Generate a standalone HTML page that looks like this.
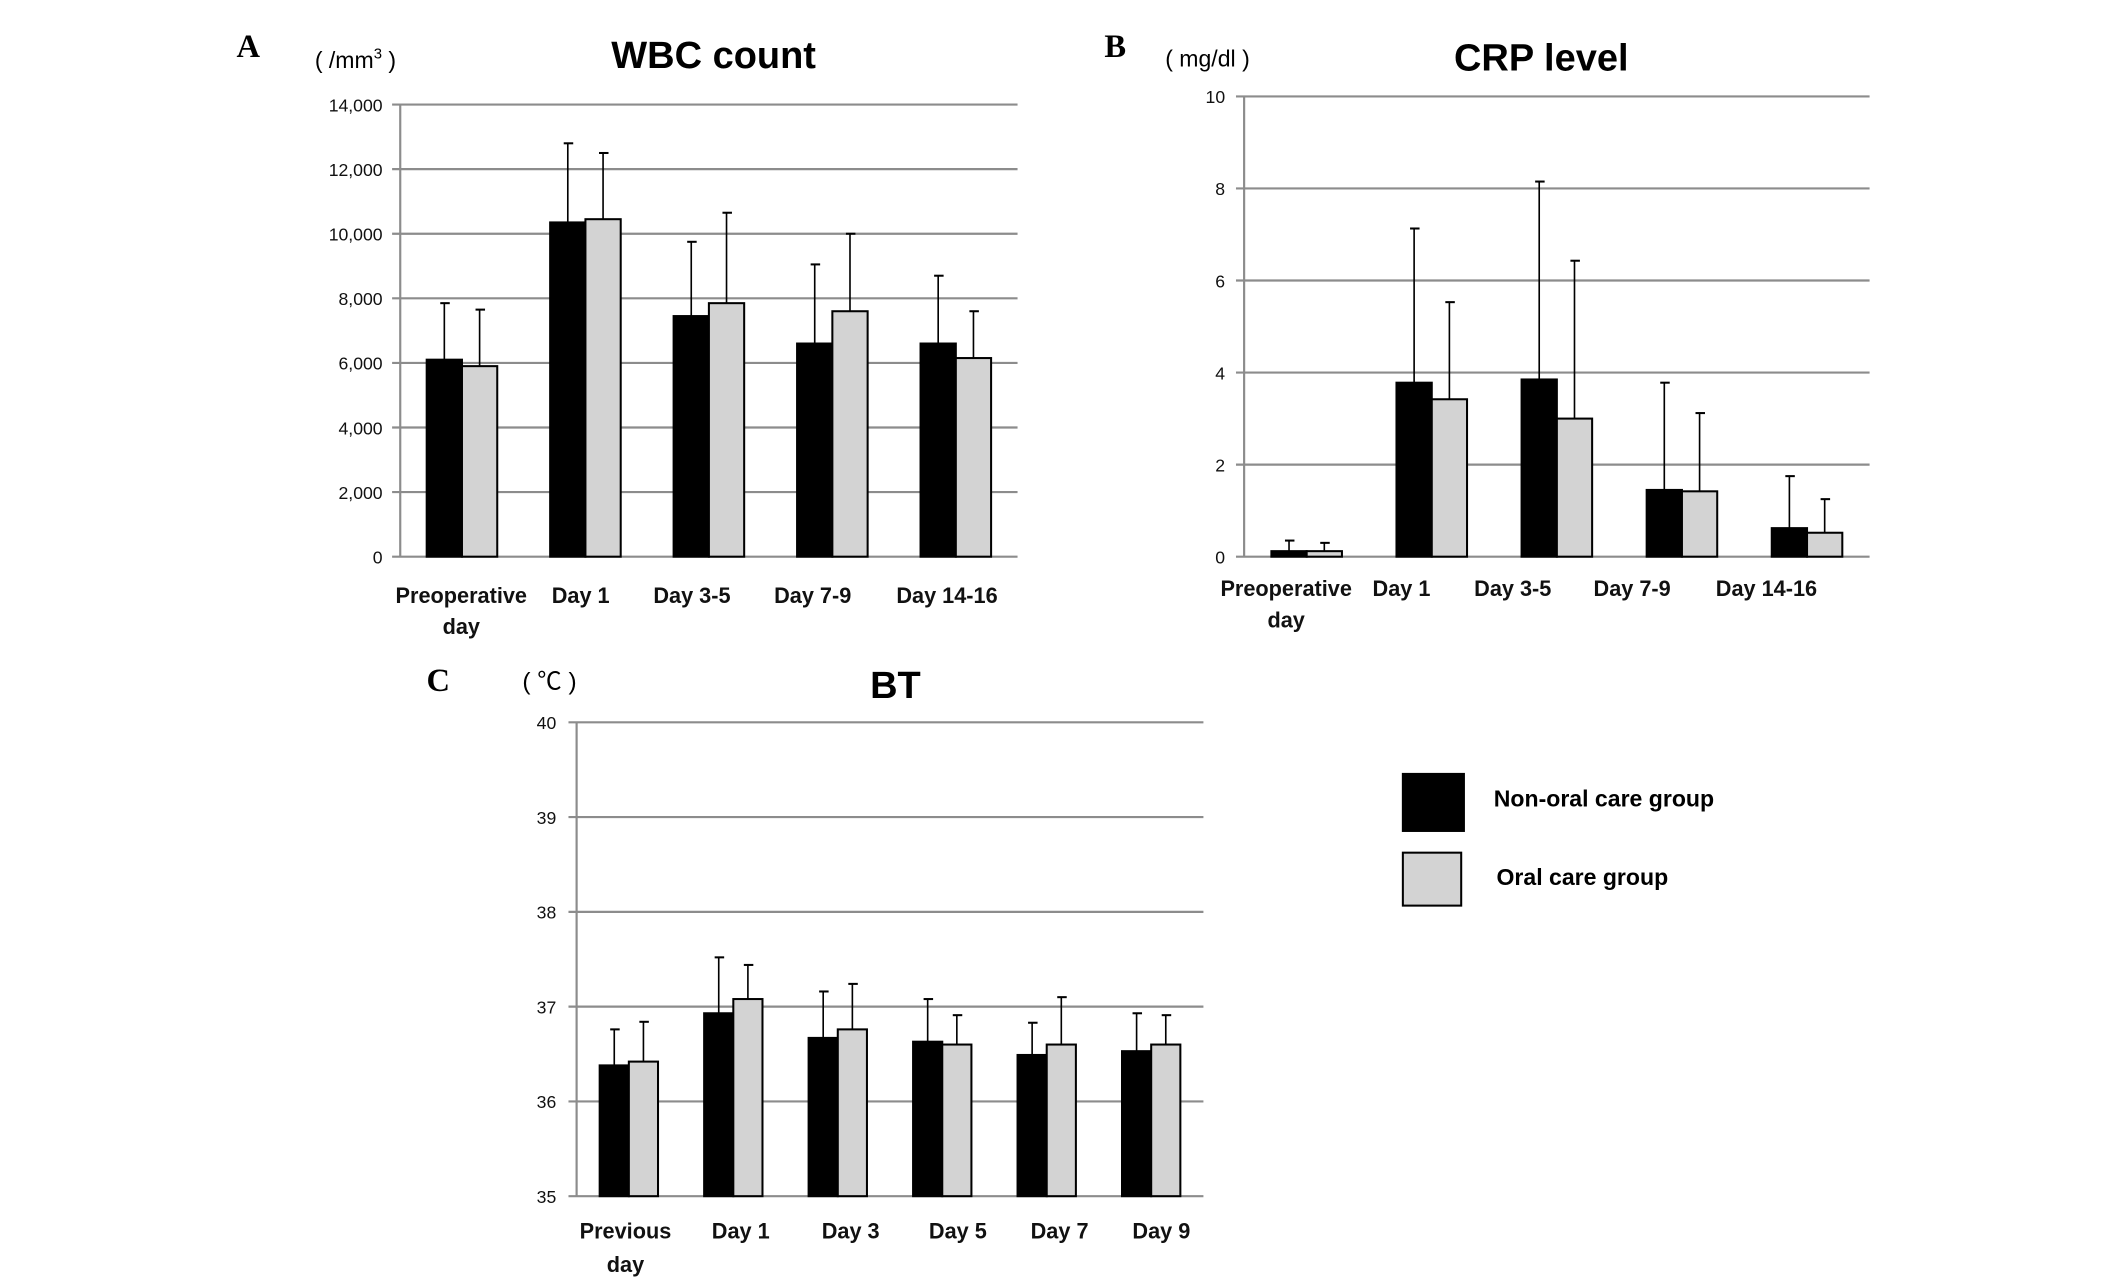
<!DOCTYPE html>
<html><head><meta charset="utf-8"><style>
html,body{margin:0;padding:0;background:#fff;}
svg{display:block;font-family:"Liberation Sans",sans-serif;}
</style></head><body>
<svg id="fig" width="2126" height="1279" viewBox="0 0 1567 942" preserveAspectRatio="none" xmlns="http://www.w3.org/2000/svg"></svg>
<script>
// Panel A: WBC
const wbcCats = ["Preoperative|day","Day 1","Day 3-5","Day 7-9","Day 14-16"];
const wbcNon = [6100,10350,7450,6600,6600];
const wbcOral = [5900,10450,7850,7600,6150];
const wbcNonErr = [7850,12800,9750,9050,8700];
const wbcOralErr = [7650,12500,10650,10000,7600];
const wbcTicks = [0,2000,4000,6000,8000,10000,12000,14000];
const wbcTickLabels = ["0","2,000","4,000","6,000","8,000","10,000","12,000","14,000"];
// Panel B: CRP
const crpCats = ["Preoperative|day","Day 1","Day 3-5","Day 7-9","Day 14-16"];
const crpNon = [0.12,3.78,3.85,1.45,0.62];
const crpOral = [0.12,3.42,3.0,1.42,0.52];
const crpNonErr = [0.35,7.13,8.15,3.78,1.75];
const crpOralErr = [0.3,5.53,6.43,3.12,1.25];
const crpTicks = [0,2,4,6,8,10];
const crpTickLabels = ["0","2","4","6","8","10"];
// Panel C: BT
const btCats = ["Previous|day","Day 1","Day 3","Day 5","Day 7","Day 9"];
const btNon = [36.38,36.93,36.67,36.63,36.49,36.53];
const btOral = [36.42,37.08,36.76,36.60,36.60,36.60];
const btNonErr = [36.76,37.52,37.16,37.08,36.83,36.93];
const btOralErr = [36.84,37.44,37.24,36.91,37.10,36.91];
const btTicks = [35,36,37,38,39,40];
const btTickLabels = ["35","36","37","38","39","40"];

const NS="http://www.w3.org/2000/svg";
const svg=document.getElementById('fig');
function mk(tag,attrs,parent,text){const e=document.createElementNS(NS,tag);for(const k in attrs)e.setAttribute(k,attrs[k]);if(text!==undefined)e.textContent=text;(parent||svg).appendChild(e);return e;}

function panel(o){
  const g=mk('g',{});
  
  
  const y=v=>o.y0-(v-o.vmin)/(o.vmax-o.vmin)*(o.y0-o.y1);
  const n=o.cats.length, gw=(o.x1-o.x0)/n;
  o.ticks.forEach((t,i)=>{
    const gl=mk('line',{x1:o.x0-6,x2:o.x1,y1:y(t),y2:y(t),stroke:'#8c8c8c','stroke-width':1.6},g);
    
    
    const tl=mk('text',{x:o.tickX,y:y(t)+5,'text-anchor':'end','font-size':13,fill:'#111'},g,o.tickLabels[i]);
    
    
  });
  const ax=mk('line',{x1:o.x0,x2:o.x0,y1:o.y0,y2:o.y1,stroke:'#8c8c8c','stroke-width':1.6},g);
  
  
  o.cats.forEach((c,i)=>{
    const cx=o.x0+gw*(i+0.5);
    [[o.non[i],o.nonErr[i],cx-o.bw,'#000','bar-non-oral'],[o.oral[i],o.oralErr[i],cx,'#d3d3d3','bar-oral']].forEach(([v,e,bx,fill,nm])=>{
      const mid=bx+o.bw/2;
      const el=mk('line',{x1:mid,x2:mid,y1:y(v),y2:y(e),stroke:'#000','stroke-width':1.2},g);
      
      
      const cap=mk('line',{x1:mid-3,x2:mid+4,y1:y(e),y2:y(e),stroke:'#000','stroke-width':1.5},g);
      
      
      const r=mk('rect',{x:bx,y:y(v),width:o.bw,height:o.y0-y(v),fill:fill,stroke:'#000','stroke-width':1.5},g);
      
      
    });
    const parts=c.split('|');
    const lx=o.labelX?o.labelX[i]:cx;
    parts.forEach((p,j)=>{
      const t=mk('text',{x:lx,y:o.labelY+j*o.labelDy,'text-anchor':'middle','font-size':16,'font-weight':'bold',fill:'#111'},g,p);
      
      
    });
  });
}
panel({name:'wbc-chart',cats:wbcCats,non:wbcNon,oral:wbcOral,nonErr:wbcNonErr,oralErr:wbcOralErr,ticks:wbcTicks,tickLabels:wbcTickLabels,
  vmin:0,vmax:14000,x0:295,x1:750,y0:410,y1:77,bw:26,tickX:282,labelY:444,labelDy:23,labelX:[340,428,510,599,698]});
panel({name:'crp-chart',cats:crpCats,non:crpNon,oral:crpOral,nonErr:crpNonErr,oralErr:crpOralErr,ticks:crpTicks,tickLabels:crpTickLabels,
  vmin:0,vmax:10,x0:917,x1:1378,y0:410,y1:71,bw:26,tickX:903,labelY:439,labelDy:23,labelX:[948,1033,1115,1203,1302]});
panel({name:'bt-chart',cats:btCats,non:btNon,oral:btOral,nonErr:btNonErr,oralErr:btOralErr,ticks:btTicks,tickLabels:btTickLabels,
  vmin:35,vmax:40,x0:425,x1:887,y0:881,y1:532,bw:21.5,tickX:410,labelY:912,labelDy:25,labelX:[461,546,627,706,781,856]});
</script>
<script>
(function(){
const NS="http://www.w3.org/2000/svg";const svg=document.getElementById('fig');
function t(x,y,s,size,weight,fam,name,anchor){const e=document.createElementNS(NS,'text');e.setAttribute('x',x);e.setAttribute('y',y);e.setAttribute('font-size',size);e.setAttribute('font-weight',weight);e.setAttribute('text-anchor',anchor||'middle');if(fam)e.setAttribute('font-family',fam);e.textContent=s;


svg.appendChild(e);return e;}
t(183,42,'A',24,'bold','Liberation Serif','panel-label-a');
t(822,42,'B',24,'bold','Liberation Serif','panel-label-b');
t(323,509,'C',24,'bold','Liberation Serif','panel-label-c');
t(526,50,'WBC count',28,'bold',null,'wbc-title');
t(1136,52,'CRP level',28,'bold',null,'crp-title');
t(660,514,'BT',28,'bold',null,'bt-title');
const u=t(262,50,'( /mm',17,'normal',null,'wbc-unit');
const sup=document.createElementNS(NS,'tspan');sup.setAttribute('font-size',11);sup.setAttribute('dy',-7);sup.textContent='3';u.appendChild(sup);
const cl=document.createElementNS(NS,'tspan');cl.setAttribute('dy',7);cl.textContent=' )';u.appendChild(cl);
t(890,49,'( mg/dl )',17,'normal',null,'crp-unit');
t(405,508,'( ℃ )',18,'normal',"Liberation Sans, Noto Sans CJK JP, sans-serif",'bt-unit');
function r(x,y,w,h,f,name){const e=document.createElementNS(NS,'rect');e.setAttribute('x',x);e.setAttribute('y',y);e.setAttribute('width',w);e.setAttribute('height',h);e.setAttribute('fill',f);e.setAttribute('stroke','#000');e.setAttribute('stroke-width',1.5);


svg.appendChild(e);}
r(1034,570,45,42,'#000','legend-swatch-non-oral');
r(1034,628,43,39,'#d3d3d3','legend-swatch-oral');
t(1101,594,'Non-oral care group',17,'bold',null,'legend-label-non-oral','start');
t(1103,652,'Oral care group',17,'bold',null,'legend-label-oral','start');
})();
</script>
</body></html>
